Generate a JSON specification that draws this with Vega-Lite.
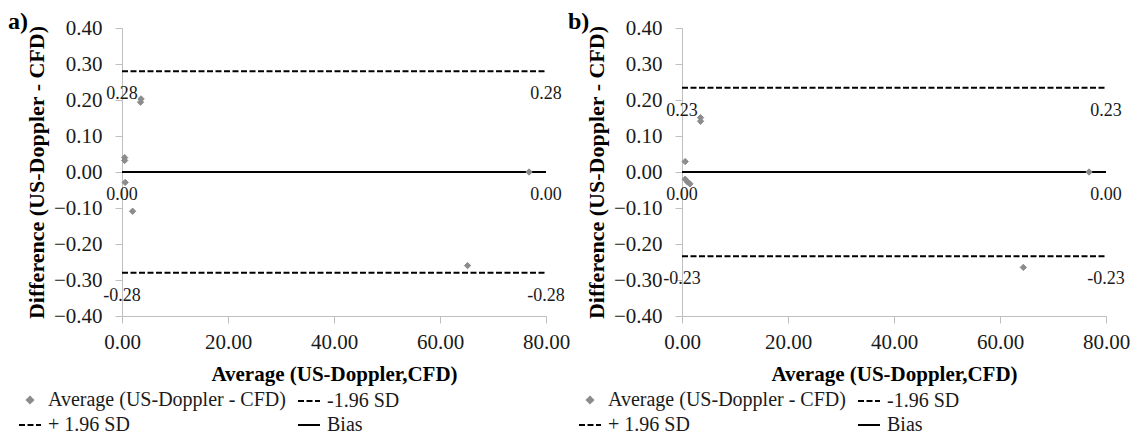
{
  "$schema": "https://vega.github.io/schema/vega-lite/v6.json",
  "background": "white",
  "padding": {"left": 8, "top": 10, "right": 0, "bottom": 0},
  "bounds": "flush",
  "spacing": 136,
  "datasets": {
    "pa": [
      {"x": 3.5, "y": 0.194, "series": "Average (US-Doppler - CFD)"},
      {"x": 3.6, "y": 0.203, "series": "Average (US-Doppler - CFD)"},
      {"x": 0.5, "y": 0.04, "series": "Average (US-Doppler - CFD)"},
      {"x": 0.5, "y": 0.032, "series": "Average (US-Doppler - CFD)"},
      {"x": 0.6, "y": -0.029, "series": "Average (US-Doppler - CFD)"},
      {"x": 2.0, "y": -0.109, "series": "Average (US-Doppler - CFD)"},
      {"x": 65.2, "y": -0.26, "series": "Average (US-Doppler - CFD)"},
      {"x": 76.8, "y": 0.0, "series": "Average (US-Doppler - CFD)"}
    ],
    "pb": [
      {"x": 3.5, "y": 0.151, "series": "Average (US-Doppler - CFD)"},
      {"x": 3.5, "y": 0.141, "series": "Average (US-Doppler - CFD)"},
      {"x": 0.6, "y": 0.029, "series": "Average (US-Doppler - CFD)"},
      {"x": 0.6, "y": -0.02, "series": "Average (US-Doppler - CFD)"},
      {"x": 1.0, "y": -0.027, "series": "Average (US-Doppler - CFD)"},
      {"x": 1.5, "y": -0.033, "series": "Average (US-Doppler - CFD)"},
      {"x": 64.4, "y": -0.265, "series": "Average (US-Doppler - CFD)"},
      {"x": 76.8, "y": 0.0, "series": "Average (US-Doppler - CFD)"}
    ],
    "la": [
      {"series": "-1.96 SD", "y": -0.28, "x": 0, "x2": 80},
      {"series": "+ 1.96 SD", "y": 0.28, "x": 0, "x2": 80},
      {"series": "Bias", "y": 0.0, "x": 0, "x2": 80}
    ],
    "lb": [
      {"series": "-1.96 SD", "y": -0.234, "x": 0, "x2": 80},
      {"series": "+ 1.96 SD", "y": 0.234, "x": 0, "x2": 80},
      {"series": "Bias", "y": 0.0, "x": 0, "x2": 80}
    ],
    "ta": [
      {"x": 0, "y": 0.28, "label": "0.28"},
      {"x": 80, "y": 0.28, "label": "0.28"},
      {"x": 0, "y": 0.0, "label": "0.00"},
      {"x": 80, "y": 0.0, "label": "0.00"},
      {"x": 0, "y": -0.28, "label": "-0.28"},
      {"x": 80, "y": -0.28, "label": "-0.28"}
    ],
    "tb": [
      {"x": 0, "y": 0.234, "label": "0.23"},
      {"x": 80, "y": 0.234, "label": "0.23"},
      {"x": 0, "y": 0.0, "label": "0.00"},
      {"x": 80, "y": 0.0, "label": "0.00"},
      {"x": 0, "y": -0.234, "label": "-0.23"},
      {"x": 80, "y": -0.234, "label": "-0.23"}
    ]
  },
  "config": {
    "font": "Liberation Serif",
    "view": {"stroke": null},
    "axis": {
      "grid": false,
      "domainColor": "#bfbfbf",
      "tickColor": "#bfbfbf",
      "tickSize": 7,
      "labelFont": "Liberation Serif",
      "labelFontSize": 21,
      "labelColor": "#1a1a1a",
      "labelOverlap": false,
      "labelFlush": false,
      "titleFont": "Liberation Serif",
      "titleFontSize": 21,
      "titleFontWeight": "bold",
      "titleColor": "#000000"
    },
    "legend": {
      "title": null,
      "orient": "none",
      "legendX": -104,
      "legendY": 361,
      "columns": 2,
      "direction": "horizontal",
      "labelFont": "Liberation Serif",
      "labelFontSize": 20,
      "labelColor": "#1a1a1a",
      "labelLimit": 0,
      "symbolFillColor": "#8c8c8c",
      "symbolStrokeWidth": 2,
      "columnPadding": 8,
      "rowPadding": 2,
      "labelOffset": 6,
      "symbolOffset": 0
    },
    "title": {
      "font": "Liberation Serif",
      "fontSize": 24,
      "fontWeight": "bold",
      "color": "#000000",
      "anchor": "start",
      "frame": "group",
      "baseline": "alphabetic",
      "offset": 0
    }
  },
  "resolve": {
    "scale": {"x": "independent", "y": "independent", "color": "independent", "shape": "independent", "strokeDash": "independent", "size": "independent"},
    "legend": {"color": "independent", "shape": "independent", "strokeDash": "independent", "size": "independent"}
  },
  "hconcat": [
    {
      "width": 424,
      "height": 288,
      "title": {"text": "a)", "dx": -114, "dy": 21},
      "encoding": {
        "x": {"field": "x", "type": "quantitative", "scale": {"domain": [0, 80], "nice": false}, "axis": {"values": [0, 20, 40, 60, 80], "format": ".2f", "title": "Average (US-Doppler,CFD)", "labelOverlap": false, "labelFlush": false, "labelPadding": 8, "titlePadding": 11}},
        "y": {"field": "y", "type": "quantitative", "scale": {"domain": [-0.4, 0.4], "nice": false}, "axis": {"values": [-0.4, -0.3, -0.2, -0.1, 0, 0.1, 0.2, 0.3, 0.4], "format": ".2f", "title": "Difference (US-Doppler - CFD)", "titleFontSize": 22, "labelOverlap": false, "labelFlush": false, "labelPadding": 13, "titlePadding": 5}}
      },
      "layer": [
        {
          "data": {"name": "la"},
          "mark": {"type": "rule", "strokeWidth": 2},
          "encoding": {
            "x2": {"field": "x2"},
            "color": {"field": "series", "type": "nominal", "scale": {"domain": ["Average (US-Doppler - CFD)", "-1.96 SD", "+ 1.96 SD", "Bias"], "range": ["#8c8c8c", "#000000", "#000000", "#000000"]}},
            "strokeDash": {"field": "series", "type": "nominal", "scale": {"domain": ["Average (US-Doppler - CFD)", "-1.96 SD", "+ 1.96 SD", "Bias"], "range": [[1, 0], [6, 2.5], [6, 2.5], [1, 0]]}}
          }
        },
        {
          "data": {"name": "ta"},
          "mark": {"type": "text", "dy": 23, "fontSize": 18, "font": "Liberation Serif", "color": "#1a1a1a", "baseline": "middle", "align": "center"},
          "encoding": {
            "text": {"field": "label", "type": "nominal"}
          }
        },
        {
          "data": {"name": "pa"},
          "mark": {"type": "point", "filled": false, "fill": "#8c8c8c", "strokeWidth": 1, "opacity": 1},
          "encoding": {
            "color": {"field": "series", "type": "nominal", "scale": {"domain": ["Average (US-Doppler - CFD)", "-1.96 SD", "+ 1.96 SD", "Bias"], "range": ["#8c8c8c", "#000000", "#000000", "#000000"]}},
            "shape": {"field": "series", "type": "nominal", "scale": {"domain": ["Average (US-Doppler - CFD)", "-1.96 SD", "+ 1.96 SD", "Bias"], "range": ["diamond", "stroke", "stroke", "stroke"]}},
            "size": {"field": "series", "type": "nominal", "scale": {"type": "ordinal", "domain": ["Average (US-Doppler - CFD)", "-1.96 SD", "+ 1.96 SD", "Bias"], "range": [40, 484, 484, 484]}}
          }
        }
      ]
    },
    {
      "width": 424,
      "height": 288,
      "title": {"text": "b)", "dx": -114, "dy": 21},
      "encoding": {
        "x": {"field": "x", "type": "quantitative", "scale": {"domain": [0, 80], "nice": false}, "axis": {"values": [0, 20, 40, 60, 80], "format": ".2f", "title": "Average (US-Doppler,CFD)", "labelOverlap": false, "labelFlush": false, "labelPadding": 8, "titlePadding": 11}},
        "y": {"field": "y", "type": "quantitative", "scale": {"domain": [-0.4, 0.4], "nice": false}, "axis": {"values": [-0.4, -0.3, -0.2, -0.1, 0, 0.1, 0.2, 0.3, 0.4], "format": ".2f", "title": "Difference (US-Doppler - CFD)", "titleFontSize": 22, "labelOverlap": false, "labelFlush": false, "labelPadding": 13, "titlePadding": 5}}
      },
      "layer": [
        {
          "data": {"name": "lb"},
          "mark": {"type": "rule", "strokeWidth": 2},
          "encoding": {
            "x2": {"field": "x2"},
            "color": {"field": "series", "type": "nominal", "scale": {"domain": ["Average (US-Doppler - CFD)", "-1.96 SD", "+ 1.96 SD", "Bias"], "range": ["#8c8c8c", "#000000", "#000000", "#000000"]}},
            "strokeDash": {"field": "series", "type": "nominal", "scale": {"domain": ["Average (US-Doppler - CFD)", "-1.96 SD", "+ 1.96 SD", "Bias"], "range": [[1, 0], [6, 2.5], [6, 2.5], [1, 0]]}}
          }
        },
        {
          "data": {"name": "tb"},
          "mark": {"type": "text", "dy": 23, "fontSize": 18, "font": "Liberation Serif", "color": "#1a1a1a", "baseline": "middle", "align": "center"},
          "encoding": {
            "text": {"field": "label", "type": "nominal"}
          }
        },
        {
          "data": {"name": "pb"},
          "mark": {"type": "point", "filled": false, "fill": "#8c8c8c", "strokeWidth": 1, "opacity": 1},
          "encoding": {
            "color": {"field": "series", "type": "nominal", "scale": {"domain": ["Average (US-Doppler - CFD)", "-1.96 SD", "+ 1.96 SD", "Bias"], "range": ["#8c8c8c", "#000000", "#000000", "#000000"]}},
            "shape": {"field": "series", "type": "nominal", "scale": {"domain": ["Average (US-Doppler - CFD)", "-1.96 SD", "+ 1.96 SD", "Bias"], "range": ["diamond", "stroke", "stroke", "stroke"]}},
            "size": {"field": "series", "type": "nominal", "scale": {"type": "ordinal", "domain": ["Average (US-Doppler - CFD)", "-1.96 SD", "+ 1.96 SD", "Bias"], "range": [40, 484, 484, 484]}}
          }
        }
      ]
    }
  ]
}
